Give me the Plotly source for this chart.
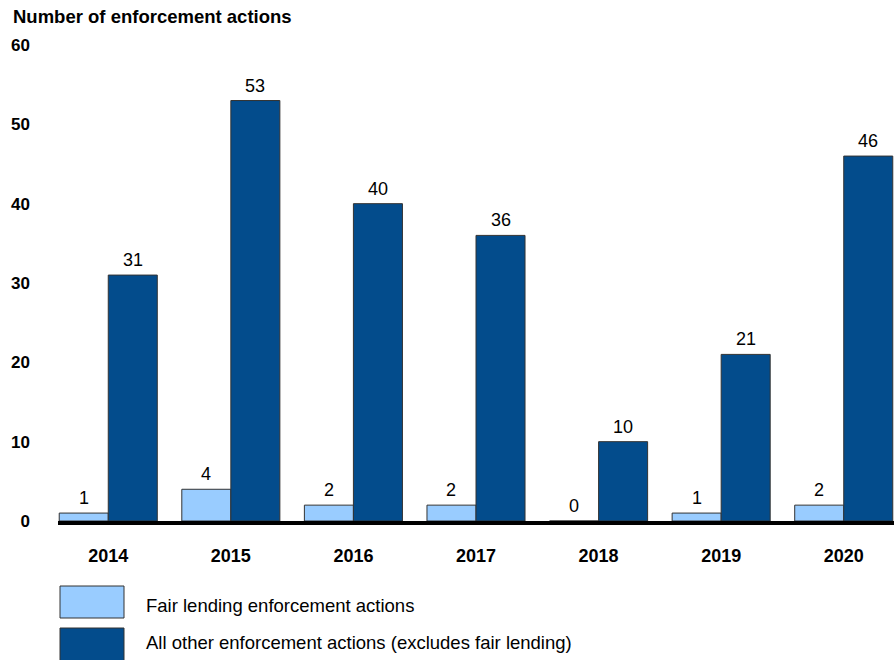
import plotly.graph_objects as go

years = ["2014", "2015", "2016", "2017", "2018", "2019", "2020"]
fair_lending = [1, 4, 2, 2, 0, 1, 2]
all_other = [31, 53, 40, 36, 10, 21, 46]
series_names = ["Fair lending enforcement actions",
                "All other enforcement actions (excludes fair lending)"]
colors = ["#99CCFF", "#034C8C"]
y_ticks = [0, 10, 20, 30, 40, 50, 60]

font_family = "Liberation Sans, Arial, sans-serif"

W, H = 894, 660
ML, MR, MT, MB = 58, 0, 45, 139
PW, PH = W - ML - MR, H - MT - MB

fig = go.Figure()
for k, (name, vals, col) in enumerate(zip(series_names, [fair_lending, all_other], colors)):
    fig.add_trace(go.Bar(
        x=years, y=vals, name=name,
        marker=dict(color=col, line=dict(color="#333333", width=1)),
        showlegend=False,
    ))
    offset = -0.2 if k == 0 else 0.2
    for i, v in enumerate(vals):
        fig.add_annotation(
            x=i + offset, y=v, xref="x", yref="y", text=str(v), showarrow=False,
            xanchor="center", yanchor="bottom", yshift=3,
            font=dict(size=18, family=font_family, color="black"),
        )

fig.update_layout(
    width=W, height=H,
    margin=dict(l=ML, r=MR, t=MT, b=MB),
    barmode="group", bargap=0.2, bargroupgap=0,
    plot_bgcolor="white", paper_bgcolor="white",
    font=dict(family=font_family, color="black"),
    xaxis=dict(
        type="category", range=[-0.41, 6.41],
        showline=True, linecolor="black", linewidth=4,
        showgrid=False, ticks="",
        tickfont=dict(size=18, family=font_family, color="black", weight="bold"),
        ticklabelstandoff=15,
    ),
    yaxis=dict(
        range=[0, 60], tickvals=y_ticks, showgrid=False, zeroline=False,
        showline=False, ticks="",
        tickfont=dict(size=17, family=font_family, color="black", weight="bold"),
        ticklabelstandoff=27,
    ),
)

fig.add_annotation(
    text="<b>Number of enforcement actions</b>", xref="paper", yref="paper",
    x=-(ML - 11) / PW, y=1 + (MT - 17) / PH, xanchor="left", yanchor="middle",
    showarrow=False, font=dict(size=18.5, family=font_family, color="black"),
)

# custom legend
legend_rows = [(586, 618, 605, 0), (628, 662, 642, 1)]
for top, bot, ycen, i in legend_rows:
    fig.add_shape(type="rect", xref="paper", yref="paper",
                  x0=(60 - ML) / PW, x1=(124 - ML) / PW,
                  y0=1 - (bot - MT) / PH, y1=1 - (top - MT) / PH,
                  fillcolor=colors[i], line=dict(color="#333333", width=1))
    fig.add_annotation(text=series_names[i], xref="paper", yref="paper",
                       x=(144 - ML) / PW, y=1 - (ycen - MT) / PH,
                       xanchor="left", yanchor="middle", showarrow=False,
                       font=dict(size=18.5, family=font_family, color="black"))

fig.write_html("out.html", config={"displayModeBar": False},
               post_script="document.body.style.margin='0';")
